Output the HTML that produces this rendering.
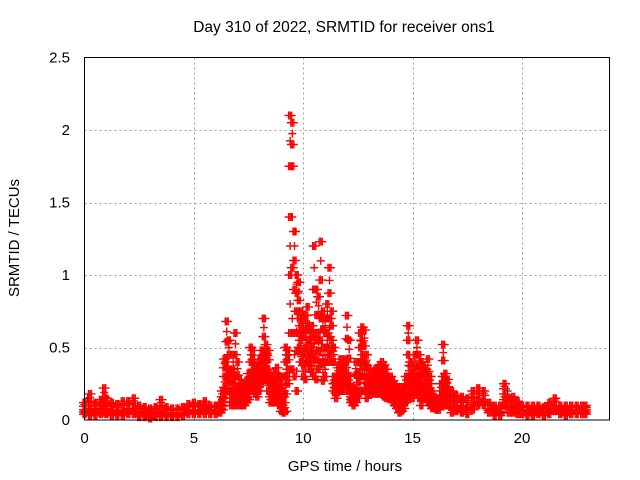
<!DOCTYPE html>
<html><head><meta charset="utf-8"><style>
html,body{margin:0;padding:0;background:#fff}
svg{display:block;font-family:"Liberation Sans",sans-serif}
</style></head><body>
<svg id="chart" width="640" height="480" viewBox="0 0 640 480">
<rect width="640" height="480" fill="#fff"/>
<text x="344" y="32" text-anchor="middle" font-size="15.5" fill="#000">Day 310 of 2022, SRMTID for receiver ons1</text>
<g id="grid"></g>
<g id="ticks"></g>
<g id="marks"></g>
<rect x="84.5" y="57.5" width="525" height="362.5" fill="none" stroke="#000" stroke-width="1"/>
<text x="345" y="471" text-anchor="middle" font-size="15">GPS time / hours</text>
<text transform="translate(19,238) rotate(-90)" text-anchor="middle" font-size="15">SRMTID / TECUs</text>
</svg>
<script>
const times=[0,0.25,0.5,0.75,0.9,1,1.25,1.5,1.75,2,2.25,2.5,2.75,3,3.25,3.5,3.75,4,4.25,4.5,4.75,5,5.25,5.5,5.75,6,6.2,6.3,
6.4,6.5,6.6,6.7,6.8,6.9,7.0,7.1,7.2,7.3,7.4,7.5,7.6,7.7,7.8,7.9,8.0,8.1,8.2,8.3,8.4,8.5,8.6,8.7,8.8,8.9,9.0,9.1,9.2,9.3,9.4,9.5,9.6,9.7,9.8,9.9,
10.0,10.1,10.2,10.3,10.4,10.5,10.6,10.7,10.8,10.9,11.0,11.1,11.2,11.3,11.4,11.5,11.6,11.7,11.8,11.9,12.0,12.1,12.2,12.3,12.4,12.5,12.6,12.7,12.8,12.9,
13.0,13.1,13.2,13.3,13.4,13.5,13.6,13.7,13.8,13.9,14.0,14.1,14.2,14.3,14.4,14.5,14.6,14.7,14.8,14.9,15.0,15.1,15.2,15.3,15.4,15.5,15.6,15.7,15.8,15.9,
16.0,16.1,16.2,16.3,16.4,16.5,16.6,16.8,17,17.25,17.5,17.75,18,18.25,18.5,18.75,19,19.2,19.4,19.6,19.8,20,20.25,20.5,20.75,21,21.25,21.5,21.75,22,22.25,22.5,22.75,22.9];
const redHigh=[.12,.18,.12,.14,.22,.15,.12,.11,.13,.13,.15,.1,.09,.08,.09,.14,.09,.08,.08,.09,.11,.12,.11,.13,.1,.1,.12,.2,
.42,.68,.55,.32,.45,.6,.4,.28,.25,.22,.27,.32,.5,.48,.38,.32,.42,.48,.7,.52,.48,.3,.28,.33,.36,.3,.3,.2,.5,.48,2.1,2.05,1.3,1.0,.95,.75,
.7,.72,.78,.62,.65,1.2,.9,.85,1.23,.75,.7,.8,1.05,.75,.5,.3,.36,.42,.36,.42,.72,.55,.22,.2,.4,.32,.6,.64,.62,.45,
.36,.3,.32,.35,.36,.38,.4,.38,.35,.3,.3,.27,.25,.22,.2,.22,.22,.3,.65,.4,.32,.45,.55,.45,.4,.38,.35,.42,.3,.2,
.16,.15,.15,.25,.52,.32,.28,.2,.17,.16,.15,.2,.22,.2,.12,.1,.1,.25,.15,.16,.13,.1,.1,.1,.1,.09,.12,.15,.1,.1,.1,.1,.1,.1];
const redMid=[.07,.08,.07,.08,.1,.08,.07,.06,.07,.08,.08,.06,.05,.04,.05,.06,.05,.05,.05,.05,.07,.07,.07,.08,.07,.07,.08,.12,
.3,.4,.35,.2,.25,.3,.22,.18,.16,.15,.18,.22,.3,.35,.28,.25,.3,.35,.45,.4,.35,.2,.2,.22,.22,.18,.15,.12,.3,.35,1.4,1.75,.9,.75,.7,.55,
.45,.5,.55,.45,.5,.6,.55,.6,.7,.5,.5,.6,.7,.55,.3,.22,.28,.3,.3,.3,.4,.3,.16,.15,.22,.2,.4,.45,.4,.3,
.28,.25,.25,.25,.26,.28,.28,.25,.22,.22,.2,.18,.16,.14,.12,.14,.15,.2,.45,.28,.22,.3,.35,.3,.25,.25,.22,.25,.2,.14,
.12,.1,.1,.15,.3,.2,.18,.12,.1,.1,.09,.12,.15,.14,.08,.07,.06,.18,.1,.1,.08,.07,.07,.06,.07,.06,.08,.1,.07,.06,.07,.07,.06,.07];
const redLow=[.04,.03,.03,.04,.05,.04,.03,.03,.03,.04,.04,.02,.02,.01,.02,.02,.02,.02,.02,.03,.04,.04,.04,.04,.04,.04,.05,.07,
.15,.2,.2,.1,.12,.1,.12,.1,.1,.1,.12,.14,.2,.22,.18,.16,.2,.25,.3,.28,.2,.12,.12,.12,.12,.1,.06,.05,.06,.25,.6,.35,.3,.2,.5,.4,
.3,.28,.4,.35,.33,.3,.28,.35,.4,.27,.3,.4,.45,.4,.2,.15,.2,.2,.25,.2,.25,.2,.12,.1,.12,.15,.2,.3,.2,.15,
.2,.18,.2,.18,.18,.18,.18,.16,.15,.15,.15,.12,.1,.08,.05,.06,.08,.12,.15,.2,.15,.18,.2,.15,.1,.15,.15,.12,.1,.08,
.08,.07,.07,.1,.15,.1,.1,.05,.06,.05,.04,.07,.1,.1,.05,.03,.03,.1,.05,.05,.04,.04,.03,.03,.04,.03,.04,.06,.04,.03,.04,.04,.04,.04];
const blackTimes=[0.1,1.2,3.0,6.6,7.2,8.3,9.3,9.6,9.9,10.3,10.7,11.1,12.4,13.2,13.7,14.6,15.3,17.2,19.3,21.1];
const blackVals=[.15,.1,.05,.3,.2,.35,.45,1.3,.6,.5,.55,.45,.3,.3,.35,.18,.3,.12,.2,.08];
const xTicks=[0,5,10,15,20];
const yTicks=[0,0.5,1,1.5,2,2.5];
const yTickLabels=["0","0.5","1","1.5","2","2.5"];

const X0=84.5,X1=609.5,Y0=420,Y1=57.5,XMAX=24,YMAX=2.5;
const xs=v=>X0+(X1-X0)*v/XMAX;
const ys=v=>Y0-(Y0-Y1)*v/YMAX;
const NS='http://www.w3.org/2000/svg';
const grid=document.getElementById('grid'),ticks=document.getElementById('ticks'),marks=document.getElementById('marks');
function mk(tag,attrs,parent){const e=document.createElementNS(NS,tag);for(const k in attrs)e.setAttribute(k,attrs[k]);parent.appendChild(e);return e;}
xTicks.forEach(t=>{
  const x=Math.round(xs(t))+0.5;
  if(t>0){const g=mk('line',{x1:x,x2:x,y1:Y1,y2:Y0,stroke:'#a0a0a0','stroke-dasharray':'2,3'},grid);
  
  }
  const tl=mk('text',{x:xs(t),y:443,'text-anchor':'middle','font-size':'15'},ticks);
  tl.textContent=t;
  
  
});
yTicks.forEach((t,i)=>{
  const y=Math.round(ys(t))+0.5;
  if(t>0&&t<YMAX){const g=mk('line',{x1:X0,x2:X1,y1:y,y2:y,stroke:'#a0a0a0','stroke-dasharray':'2,3'},grid);
  
  }
  const tl=mk('text',{x:70,y:ys(t)+5,'text-anchor':'end','font-size':'15'},ticks);
  tl.textContent=yTickLabels[i];
  
  
});
function plus(x,y){return `M${x-4},${y}h8M${x},${y-4}v8`;}
let bd='';blackTimes.forEach((t,i)=>{bd+=plus(xs(t)+1,ys(blackVals[i]));});
const bp=mk('path',{d:bd,stroke:'#000','stroke-width':1,fill:'none'},marks);


let rd='';
times.forEach((t,i)=>{
  const h=ys(redHigh[i]),m=ys(redMid[i]),l=ys(redLow[i]),x=xs(t);
  [-1.5,0,1.5].forEach(dx=>{
    rd+=plus(x+dx,h)+plus(x+dx,m)+plus(x+dx,l);
    rd+=plus(x+dx,(h+m)/2)+plus(x+dx,(m+l)/2);
  });
  rd+=plus(x,(h*3+m)/4)+plus(x,(m*3+l)/4)+plus(x,(m+l*3)/4);
});
const rp=mk('path',{d:rd,stroke:'#ff0000','stroke-width':1.4,fill:'none'},marks);


</script>
</body></html>
